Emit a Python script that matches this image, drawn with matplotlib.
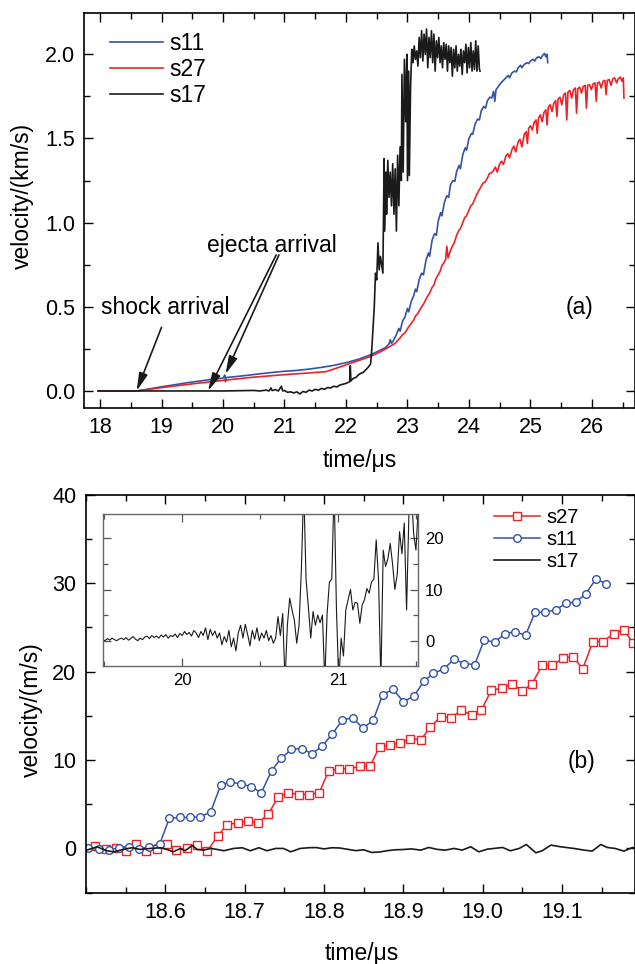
import matplotlib

matplotlib.use("Agg")
import matplotlib.pyplot as plt
import numpy as np
from matplotlib.ticker import FormatStrFormatter, MultipleLocator

plt.rcParams["font.family"] = ["Liberation Sans", "DejaVu Sans"]

BLUE = "#3453a6"
RED = "#ec2227"
BLACK = "#1a1a1a"

# ---- panel (a): full records, time in us, velocity in km/s ----
S11_T = [17.97, 18.3, 18.6, 18.8, 19.0, 19.2, 19.4, 19.6, 19.8, 20.0, 20.03, 20.04, 20.05, 20.2, 20.4, 20.6,
         20.8, 21.0, 21.2, 21.4, 21.6, 21.8, 22.0, 22.2, 22.4, 22.5, 22.6, 22.65,
         22.70, 22.72, 22.74, 22.78, 22.82, 22.86, 22.88, 22.92, 22.96, 23.00, 23.02, 23.06, 23.10, 23.13,
         23.15, 23.19, 23.23, 23.26, 23.30, 23.34, 23.36, 23.40, 23.44, 23.47, 23.50, 23.54, 23.56, 23.60,
         23.64, 23.67, 23.70, 23.74, 23.77, 23.80, 23.84, 23.86, 23.90, 23.94, 23.96, 24.00, 24.04, 24.06,
         24.10, 24.14, 24.17, 24.20, 24.24, 24.27, 24.30, 24.34, 24.37, 24.40, 24.42, 24.44, 24.48, 24.52,
         24.56, 24.60, 24.64, 24.66, 24.70, 24.74, 24.77, 24.80, 24.84, 24.86, 24.90, 24.94, 24.97, 25.00,
         25.04, 25.07, 25.10, 25.14, 25.17, 25.20, 25.23, 25.25, 25.27, 25.28]
S11_V = [0.0, 0.0, 0.0, 0.012, 0.025, 0.036, 0.048, 0.058, 0.068, 0.076, 0.095, 0.055, 0.08, 0.085, 0.093, 0.102,
         0.11, 0.117, 0.122, 0.13, 0.14, 0.152, 0.168, 0.188, 0.215, 0.232, 0.25, 0.26,
         0.280, 0.305, 0.282, 0.305, 0.335, 0.372, 0.355, 0.415, 0.440, 0.490, 0.470, 0.530, 0.565, 0.605,
         0.590, 0.660, 0.700, 0.690, 0.775, 0.820, 0.800, 0.895, 0.935, 0.925, 1.010, 1.060, 1.040, 1.120,
         1.160, 1.150, 1.225, 1.250, 1.245, 1.305, 1.340, 1.320, 1.405, 1.445, 1.430, 1.500, 1.530, 1.525,
         1.585, 1.615, 1.610, 1.665, 1.690, 1.680, 1.725, 1.745, 1.740, 1.780, 1.720, 1.790, 1.810, 1.830,
         1.845, 1.860, 1.875, 1.860, 1.890, 1.900, 1.895, 1.920, 1.935, 1.920, 1.940, 1.950, 1.945, 1.960,
         1.970, 1.960, 1.980, 1.985, 1.975, 1.995, 2.005, 1.985, 2.000, 1.950]

S27_T = [17.97, 18.6, 18.8, 19.0, 19.5, 20.0, 20.5, 21.0, 21.4, 21.68, 21.8, 22.0, 22.2, 22.4, 22.6,
         22.80, 22.84, 22.88, 22.92, 22.96, 23.00, 23.03, 23.06, 23.10, 23.13, 23.16, 23.20, 23.23, 23.26,
         23.30, 23.33, 23.36, 23.40, 23.43, 23.46, 23.50, 23.53, 23.56, 23.59, 23.62, 23.64, 23.66, 23.70,
         23.73, 23.76, 23.80, 23.83, 23.86, 23.90, 23.93, 23.96, 24.00, 24.03, 24.06, 24.10, 24.13, 24.16,
         24.20, 24.23, 24.26, 24.30, 24.33, 24.36, 24.40, 24.43, 24.46, 24.50, 24.53, 24.56, 24.60, 24.63,
         24.66, 24.70, 24.73, 24.76, 24.80, 24.83, 24.86, 24.90, 24.93, 24.95, 24.97, 25.00, 25.03, 25.06,
         25.09, 25.11, 25.13, 25.16, 25.19, 25.22, 25.25, 25.27, 25.29, 25.32, 25.35, 25.38, 25.41, 25.43,
         25.45, 25.48, 25.51, 25.54, 25.57, 25.59, 25.61, 25.64, 25.67, 25.70, 25.73, 25.75, 25.77, 25.80,
         25.83, 25.86, 25.89, 25.91, 25.93, 25.96, 25.99, 26.02, 26.05, 26.07, 26.09, 26.12, 26.15, 26.18,
         26.21, 26.23, 26.25, 26.28, 26.31, 26.34, 26.37, 26.40, 26.43, 26.46, 26.49, 26.51, 26.52]
S27_V = [0.0, 0.0, 0.01, 0.02, 0.042, 0.063, 0.082, 0.097, 0.107, 0.115, 0.13, 0.155, 0.18, 0.205, 0.24,
         0.283, 0.300, 0.315, 0.335, 0.345, 0.370, 0.385, 0.400, 0.420, 0.445, 0.455, 0.480, 0.500, 0.515,
         0.545, 0.565, 0.580, 0.615, 0.630, 0.665, 0.690, 0.710, 0.745, 0.760, 0.780, 0.860, 0.790, 0.835,
         0.860, 0.880, 0.925, 0.950, 0.965, 1.000, 1.030, 1.040, 1.075, 1.100, 1.110, 1.145, 1.170, 1.190,
         1.215, 1.235, 1.240, 1.265, 1.290, 1.295, 1.310, 1.330, 1.300, 1.350, 1.365, 1.345, 1.395, 1.410,
         1.385, 1.435, 1.455, 1.420, 1.480, 1.495, 1.450, 1.525, 1.540, 1.470, 1.560, 1.575, 1.550, 1.595,
         1.610, 1.530, 1.620, 1.640, 1.600, 1.655, 1.670, 1.580, 1.685, 1.700, 1.660, 1.710, 1.725, 1.630,
         1.735, 1.745, 1.700, 1.760, 1.770, 1.610, 1.775, 1.785, 1.740, 1.790, 1.800, 1.650, 1.795, 1.805,
         1.770, 1.810, 1.815, 1.680, 1.815, 1.820, 1.790, 1.825, 1.830, 1.720, 1.830, 1.835, 1.800, 1.840,
         1.845, 1.760, 1.845, 1.850, 1.815, 1.855, 1.860, 1.830, 1.855, 1.865, 1.840, 1.860, 1.740]

S17_T = [17.97, 18.5, 19.0, 19.5, 20.0, 20.3, 20.5, 20.6, 20.7, 20.75, 20.78, 20.8, 20.85, 20.9, 20.95, 20.97,
         21.0, 21.05, 21.1, 21.15, 21.2, 21.25, 21.3, 21.35, 21.4, 21.45, 21.5, 21.55, 21.6, 21.65, 21.7,
         21.75, 21.8, 21.85, 21.9, 21.95, 22.0, 22.03, 22.06, 22.07, 22.08, 22.12, 22.16, 22.2, 22.24, 22.28,
         22.32, 22.36, 22.40, 22.42, 22.46, 22.48, 22.50, 22.52, 22.54, 22.56, 22.58, 22.60, 22.62, 22.63,
         22.65, 22.66, 22.68, 22.70, 22.72, 22.74, 22.76, 22.78, 22.80, 22.82, 22.84, 22.86, 22.88, 22.90,
         22.91, 22.93, 22.95, 22.97, 22.99, 23.00, 23.02, 23.03, 23.05, 23.07, 23.09, 23.11, 23.13, 23.15,
         23.17, 23.19, 23.21, 23.23, 23.25, 23.27, 23.29, 23.31, 23.33, 23.35, 23.37, 23.39, 23.41, 23.43,
         23.45, 23.47, 23.49, 23.51, 23.53, 23.55, 23.57, 23.59, 23.61, 23.63, 23.65, 23.67, 23.69, 23.71,
         23.73, 23.75, 23.77, 23.79, 23.81, 23.83, 23.85, 23.87, 23.89, 23.91, 23.93, 23.95, 23.97, 23.99,
         24.01, 24.03, 24.05, 24.07, 24.09, 24.11, 24.13, 24.15, 24.17, 24.18]
S17_V = [0.0, 0.0, 0.0, 0.0, 0.0, 0.002, 0.003, 0.0, 0.005, 0.0, 0.018, 0.002, 0.008, 0.0, 0.028, 0.0,
         0.003, -0.008, -0.005, -0.012, -0.005, -0.018, -0.003, -0.008, 0.005, 0.0, 0.01, 0.004, 0.015, 0.01, 0.02,
         0.018, 0.028, 0.024, 0.035, 0.04, 0.045, 0.05, 0.055, 0.15, 0.06, 0.075, 0.08, 0.095, 0.105, 0.11,
         0.125, 0.14, 0.16, 0.25, 0.50, 0.70, 0.66, 0.88, 0.72, 0.80, 0.75, 0.70, 1.38, 0.95,
         1.30, 1.05, 1.37, 1.15, 1.30, 1.10, 1.35, 1.05, 1.32, 0.95, 1.40, 1.10, 1.45, 1.25,
         1.88, 1.30, 1.97, 1.60, 2.00, 1.25, 1.90, 1.28, 1.80, 2.03, 1.95, 2.05, 1.97, 2.02,
         1.93, 2.10, 1.98, 2.14, 1.96, 2.12, 2.00, 2.15, 1.92, 2.10, 1.98, 2.14, 1.95, 2.12,
         1.90, 2.08, 1.98, 2.10, 1.95, 2.05, 1.92, 2.07, 1.97, 2.06, 1.90, 2.05, 1.95, 2.04,
         1.87, 2.03, 1.92, 2.05, 1.90, 2.00, 1.93, 2.03, 1.88, 2.02, 1.95, 2.06, 1.89, 2.04,
         1.92, 2.07, 1.90, 2.02, 1.91, 2.08, 1.90, 2.05, 1.91, 1.90]

# ---- panel (b): early part, velocity in m/s ----
S27B_T = [18.512, 18.525, 18.538, 18.550, 18.563, 18.576, 18.589, 18.602, 18.614, 18.627, 18.640, 18.653,
          18.666, 18.678, 18.691, 18.704, 18.717, 18.730, 18.742, 18.755, 18.768, 18.781, 18.794, 18.806,
          18.819, 18.832, 18.845, 18.858, 18.870, 18.883, 18.896, 18.909, 18.922, 18.934, 18.947, 18.960,
          18.973, 18.986, 18.998, 19.011, 19.024, 19.037, 19.050, 19.062, 19.075, 19.088, 19.101, 19.114,
          19.126, 19.139, 19.152, 19.165, 19.178, 19.190]
S27B_V = [0.3, -0.1, 0.1, -0.3, 0.5, -0.3, -0.1, 0.5, -0.2, 0.1, 0.4, -0.3,
          1.4, 2.7, 2.9, 3.1, 2.9, 3.9, 5.8, 6.3, 6.1, 6.1, 6.3, 8.8,
          9.0, 9.0, 9.3, 9.3, 11.5, 11.7, 11.9, 12.4, 12.3, 13.7, 14.9, 14.8,
          15.6, 15.1, 15.6, 17.9, 18.1, 18.6, 17.8, 18.6, 20.7, 20.7, 21.5, 21.7,
          20.3, 23.4, 23.4, 24.3, 24.7, 23.2]

S11B_T = [18.503, 18.516, 18.529, 18.541, 18.554, 18.567, 18.580, 18.593, 18.605, 18.618, 18.631, 18.644,
          18.657, 18.670, 18.682, 18.695, 18.708, 18.721, 18.734, 18.746, 18.759, 18.772, 18.785, 18.798,
          18.810, 18.823, 18.836, 18.849, 18.862, 18.874, 18.887, 18.900, 18.913, 18.926, 18.938, 18.951,
          18.964, 18.977, 18.990, 19.002, 19.015, 19.028, 19.041, 19.054, 19.066, 19.079, 19.092, 19.105,
          19.118, 19.130, 19.143, 19.156]
S11B_V = [0.0, -0.1, -0.2, 0.1, 0.2, -0.1, 0.2, 0.5, 3.4, 3.5, 3.5, 3.6,
          4.1, 7.2, 7.5, 7.3, 7.0, 6.3, 8.8, 10.2, 11.2, 11.3, 10.7, 11.6,
          12.9, 14.5, 14.8, 13.6, 14.5, 17.4, 18.0, 16.6, 17.2, 18.9, 19.8, 20.3,
          21.4, 20.9, 20.8, 23.6, 23.3, 24.3, 24.5, 24.1, 26.7, 26.7, 27.0, 27.7,
          27.9, 28.8, 30.5, 29.9]

S17B_T = [18.501, 18.514, 18.526, 18.535, 18.547, 18.558, 18.568, 18.581, 18.594, 18.602, 18.610, 18.619,
          18.625, 18.634, 18.640, 18.648, 18.657, 18.665, 18.674, 18.686, 18.697, 18.707, 18.718, 18.728,
          18.739, 18.749, 18.758, 18.770, 18.781, 18.79, 18.80, 18.81, 18.82, 18.83, 18.84, 18.85, 18.86,
          18.87, 18.88, 18.89, 18.90, 18.91, 18.922, 18.932, 18.943, 18.953, 18.964, 18.974, 18.985, 18.995,
          19.006, 19.025, 19.035, 19.046, 19.055, 19.067, 19.075, 19.086, 19.098, 19.115, 19.128, 19.138,
          19.149, 19.157, 19.167, 19.178, 19.189, 19.193]
S17B_V = [-0.19, 0.19, -0.26, -0.38, -0.11, 0.08, -0.11, 0.0, 0.08, -0.11, -0.38, 0.0,
          -0.26, 0.35, -0.11, -0.19, 0.0, -0.11, -0.26, 0.0, 0.08, -0.26, 0.08, -0.26,
          0.0, 0.0, -0.38, 0.0, 0.08, 0.1, -0.05, 0.08, 0.05, -0.1, -0.25, -0.15, -0.45,
          -0.4, -0.25, -0.15, -0.12, -0.05, -0.19, 0.11, -0.11, -0.19, 0.0, -0.19, 0.19, -0.38,
          -0.08, 0.11, -0.26, 0.0, 0.45, -0.49, -0.26, 0.38, 0.19, 0.0, -0.19, -0.30,
          0.45, 0.11, 0.0, -0.30, 0.11, 0.0]

# inset: s17 sampled every 15 ns from 19.49 us
INSET_T0 = 19.49
INSET_DT = 0.015
INSET_V = [0.2, 0.0, 0.4, 0.1, 0.5, 0.2, 0.0, 0.3, 0.5, 0.2,
           0.6, 0.1, 0.4, 0.8, 0.3, 0.0, 0.5, 0.2, 0.7, 0.9,
           0.4, 1.0, 0.6, 0.9, 0.5, 1.1, 0.7, 1.2, 0.5, 1.0,
           0.8, 1.3, 0.6, 1.4, 1.0, 1.8, 1.2, 1.6, 0.9, 2.0,
           1.5, 0.6, 1.8, 1.0, 2.5, 0.2, 2.2, 1.0, 1.9, 0.5,
           1.5, -0.8, 0.8, -0.3, 2.0, -1.2, 0.5, -2.0, 1.5, 3.0,
           0.5, 3.2, 1.2, -1.0, 2.0, 0.3, 2.5, 0.0, 1.5, 0.5,
           2.0, 0.0, 1.0, -0.5, 0.5, 4.7, 1.0, 5.3, -8.0, 3.0,
           8.3, 6.0, 4.0, -0.5, 3.0, 14.0, 30.0, 12.0, 6.5, 0.5,
           5.7, 3.0, 5.0, 3.5, 5.0, -8.0, 5.3, 11.5, 12.0, 30.0,
           6.0, -8.0, 0.5, -3.0, 6.0, 8.0, 10.0, 6.0, 7.5, 7.3,
           3.4, 7.0, 8.0, 10.2, 9.3, 11.5, 12.0, 19.7, 12.0, -8.0,
           17.7, 14.5, 16.0, 19.0, 15.0, 10.0, 13.0, 21.3, 17.0, 23.0,
           6.0, 25.0, 30.0, 21.0, 17.7, 26.0]


def style_axes(ax, major, minor, length=6.5, minor_length=4.0, width=1.0, size=15.5, pad=6.5):
    ax.xaxis.set_major_locator(MultipleLocator(major[0]))
    ax.xaxis.set_minor_locator(MultipleLocator(minor[0]))
    ax.yaxis.set_major_locator(MultipleLocator(major[1]))
    ax.yaxis.set_minor_locator(MultipleLocator(minor[1]))
    ax.tick_params(which="both", direction="in", top=True, right=True, width=width)
    ax.tick_params(which="major", length=length, labelsize=size, pad=pad)
    ax.tick_params(which="minor", length=minor_length)
    for spine in ax.spines.values():
        spine.set_linewidth(1.2)


def draw_panel_a(fig):
    ax = fig.add_axes([0.1328, 0.5768, 0.8672, 0.4094])
    ax.plot(S11_T, S11_V, color=BLUE, lw=1.2, label="s11")
    ax.plot(S27_T, S27_V, color=RED, lw=1.2, label="s27")
    ax.plot(S17_T, S17_V, color=BLACK, lw=1.2, label="s17")
    ax.set_xlim(17.745, 26.70)
    ax.set_ylim(-0.101, 2.2435)
    style_axes(ax, (1, 0.5), (0.5, 0.25))
    ax.yaxis.set_major_formatter(FormatStrFormatter("%.1f"))
    ax.set_xlabel("time/μs", fontsize=16.5)
    ax.set_ylabel("velocity/(km/s)", fontsize=16.5, va="center")
    ax.xaxis.set_label_coords(0.5, -0.104)
    ax.yaxis.set_label_coords(-0.113, 0.537)
    ax.legend(loc="upper left", bbox_to_anchor=(0.0467, 0.9536), frameon=False, fontsize=16.5,
              handlelength=2.3, handletextpad=0.3, labelspacing=0.13, borderpad=0, borderaxespad=0)

    arrow = dict(arrowstyle="-|>,head_length=0.9,head_width=0.22", color=BLACK, lw=1.2,
                 mutation_scale=12, shrinkA=0, shrinkB=0)
    ax.text(18.016, 0.493, "shock arrival", fontsize=16.5, ha="left", va="center")
    ax.annotate("", xy=(18.595, 0.0), xytext=(19.0, 0.378), arrowprops=arrow)
    ax.text(19.746, 0.867, "ejecta arrival", fontsize=16.5, ha="left", va="center")
    ax.annotate("", xy=(19.756, 0.0), xytext=(20.865, 0.808), arrowprops=arrow)
    ax.annotate("", xy=(20.04, 0.1), xytext=(20.91, 0.808), arrowprops=arrow)
    ax.text(25.8, 0.493, "(a)", fontsize=16.5, ha="center", va="center")


def draw_panel_b(fig):
    ax = fig.add_axes([0.1354, 0.0740, 0.8646, 0.4128])
    ax.plot(S27B_T, S27B_V, color=RED, lw=1.1, marker="s", ms=5.5, mfc="white", mec=RED, mew=1.0,
            label="s27")
    ax.plot(S11B_T, S11B_V, color=BLUE, lw=1.1, marker="o", ms=5.5, mfc="white", mec=BLUE, mew=1.0,
            label="s11")
    ax.plot(S17B_T, S17B_V, color=BLACK, lw=1.2, label="s17")
    ax.set_xlim(18.5, 19.192)
    ax.set_ylim(-5, 40)
    style_axes(ax, (0.1, 10), (0.05, 5), pad=7)
    ax.set_xticks([18.6, 18.7, 18.8, 18.9, 19.0, 19.1])
    ax.xaxis.set_major_formatter(FormatStrFormatter("%.1f"))
    ax.set_xlabel("time/μs", fontsize=16.5)
    ax.set_ylabel("velocity/(m/s)", fontsize=16.5, va="center")
    ax.xaxis.set_label_coords(0.503, -0.124)
    ax.yaxis.set_label_coords(-0.10, 0.46)
    ax.legend(loc="upper left", bbox_to_anchor=(0.743, 0.966), frameon=False, fontsize=14.5,
              handlelength=2.3, handletextpad=0.3, labelspacing=0.15, borderpad=0, borderaxespad=0)
    ax.text(19.125, 9.78, "(b)", fontsize=16.5, ha="center", va="center")

    inset = fig.add_axes([0.1617, 0.3094, 0.4970, 0.1571])
    inset_t = INSET_T0 + INSET_DT * np.arange(len(INSET_V))
    inset.plot(inset_t, INSET_V, color=BLACK, lw=0.8)
    inset.set_xlim(19.49, 21.515)
    inset.set_ylim(-4.9, 24.7)
    inset.xaxis.set_major_locator(MultipleLocator(1))
    inset.xaxis.set_minor_locator(MultipleLocator(0.5))
    inset.yaxis.set_major_locator(MultipleLocator(10))
    inset.yaxis.set_minor_locator(MultipleLocator(5))
    inset.tick_params(which="both", direction="in", top=True, right=True, left=True,
                      labelleft=False, labelright=True, width=0.9, color="#555555")
    inset.tick_params(which="major", length=6, labelsize=12, pad=5)
    inset.tick_params(which="minor", length=3.5)
    for spine in inset.spines.values():
        spine.set_linewidth(1.0)
        spine.set_color("#666666")


def main() -> None:
    fig = plt.figure(figsize=(6.35, 9.64), dpi=100)
    draw_panel_a(fig)
    draw_panel_b(fig)
    fig.savefig("out.png", dpi=100)
    plt.close(fig)


if __name__ == "__main__":
    main()
